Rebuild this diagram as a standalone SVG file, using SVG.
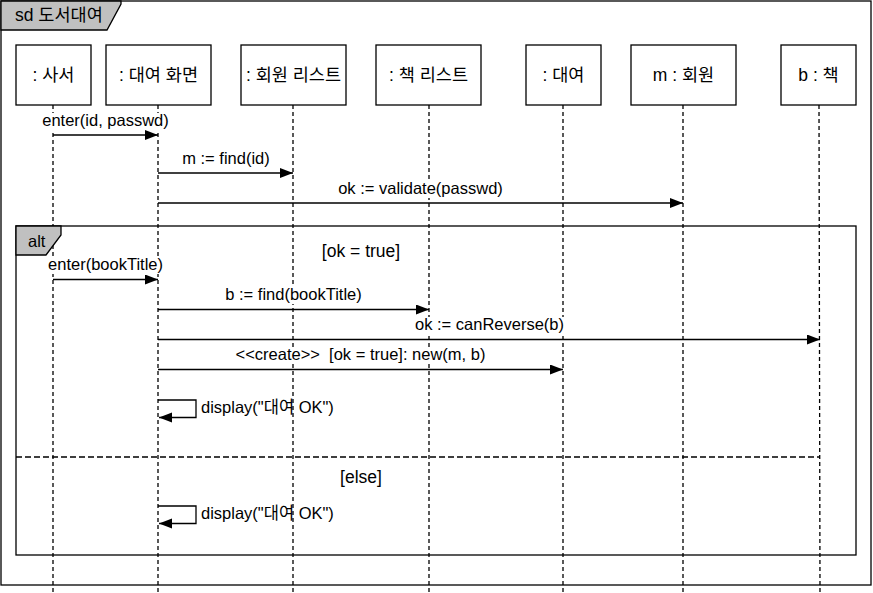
<svg xmlns="http://www.w3.org/2000/svg" width="873" height="593" viewBox="0 0 873 593">
  <style>
    text { font-family: "Liberation Sans", Arial, "Noto Sans CJK KR", sans-serif; fill: #000; }
    .lbl { font-size: 17.5px; text-anchor: middle; }
    .msg { font-size: 16.5px; text-anchor: middle; white-space: pre; }
    .guard { font-size: 17.5px; text-anchor: middle; }
    .box { fill: #fff; stroke: #000; stroke-width: 1.3; }
    .frame { fill: none; stroke: #000; stroke-width: 1.3; }
    .tab { fill: #c0c0c0; stroke: #000; stroke-width: 1.3; }
    .life { stroke: #000; stroke-width: 1.3; stroke-dasharray: 4 3; fill: none; }
    .sep { stroke: #000; stroke-width: 1.3; stroke-dasharray: 6 3; fill: none; }
    .arr { stroke: #000; stroke-width: 1.3; fill: none; marker-end: url(#head); }
    .bg { fill: #fff; stroke: none; }
  </style>
  <defs>
    <marker id="head" markerUnits="userSpaceOnUse" markerWidth="14" markerHeight="12" refX="13" refY="5" orient="auto">
      <polygon points="0,0 13,5 0,10" fill="#000"/>
    </marker>
  </defs>
  <rect width="873" height="593" fill="#fff"/>

  <g id="frame-sd">
    <rect class="frame" x="1" y="1" width="870" height="584"/>
    <polygon class="tab" points="1,1 121,1 121,4 107,30 1,30"/>
    <text x="15" y="21" style="font-size:17.5px">sd 도서대여</text>
  </g>

  <g id="lifelines">
    <line class="life" x1="53" y1="105" x2="53" y2="593"/>
    <line class="life" x1="158" y1="105" x2="158" y2="593"/>
    <line class="life" x1="293" y1="105" x2="293" y2="593"/>
    <line class="life" x1="429" y1="105" x2="429" y2="593"/>
    <line class="life" x1="563" y1="105" x2="563" y2="593"/>
    <line class="life" x1="683" y1="105" x2="683" y2="593"/>
    <line class="life" x1="819" y1="105" x2="820" y2="593"/>
  </g>

  <g id="n-librarian"><rect class="box" x="16" y="45" width="75" height="60"/><text class="lbl" x="53.5" y="81">: 사서</text></g>
  <g id="n-screen"><rect class="box" x="106" y="45" width="105" height="60"/><text class="lbl" x="158.5" y="81">: 대여 화면</text></g>
  <g id="n-memberlist"><rect class="box" x="241" y="45" width="105" height="60"/><text class="lbl" x="293.5" y="81">: 회원 리스트</text></g>
  <g id="n-booklist"><rect class="box" x="376" y="45" width="105" height="60"/><text class="lbl" x="428.5" y="81">: 책 리스트</text></g>
  <g id="n-loan"><rect class="box" x="526" y="45" width="75" height="60"/><text class="lbl" x="563.5" y="81">: 대여</text></g>
  <g id="n-member"><rect class="box" x="631" y="45" width="105" height="60"/><text class="lbl" x="683.5" y="81">m : 회원</text></g>
  <g id="n-book"><rect class="box" x="781" y="45" width="75" height="60"/><text class="lbl" x="818.5" y="81">b : 책</text></g>

  <g id="frame-alt">
    <rect class="frame" x="16" y="226" width="840" height="329"/>
    <polygon class="tab" points="16,226 61,226 61,235 46,255 16,255"/>
    <text x="28" y="247" style="font-size:16.5px">alt</text>
    <text class="guard" x="361" y="257">[ok = true]</text>
    <line class="sep" x1="16" y1="457" x2="820" y2="457"/>
    <text class="guard" x="361" y="483">[else]</text>
  </g>

  <g id="connectors">
    <line class="arr" x1="53" y1="135" x2="158" y2="135"/>
    <rect class="bg" x="41" y="113" width="129" height="17"/>
    <text class="msg" x="105.5" y="126">enter(id, passwd)</text>

    <line class="arr" x1="158" y1="173" x2="293" y2="173"/>
    <rect class="bg" x="181" y="151" width="90" height="17"/>
    <text class="msg" x="226" y="164">m := find(id)</text>

    <line class="arr" x1="158" y1="203" x2="683" y2="203"/>
    <rect class="bg" x="337" y="181" width="167" height="17"/>
    <text class="msg" x="420.5" y="194">ok := validate(passwd)</text>

    <line class="arr" x1="53" y1="279.5" x2="158" y2="279.5"/>
    <rect class="bg" x="47" y="257" width="118" height="17"/>
    <text class="msg" x="105.5" y="270">enter(bookTitle)</text>

    <line class="arr" x1="158" y1="309.5" x2="429" y2="309.5"/>
    <rect class="bg" x="224" y="287" width="139" height="17"/>
    <text class="msg" x="293.5" y="300">b := find(bookTitle)</text>

    <line class="arr" x1="158" y1="339.5" x2="820" y2="339.5"/>
    <rect class="bg" x="414" y="317" width="151" height="17"/>
    <text class="msg" x="489.5" y="330">ok := canReverse(b)</text>

    <line class="arr" x1="158" y1="369.5" x2="563" y2="369.5"/>
    <rect class="bg" x="235" y="347" width="252" height="17"/>
    <text class="msg" x="360.5" y="360">&lt;&lt;create&gt;&gt;  [ok = true]: new(m, b)</text>

    <path class="arr" d="M158,400 H196 V417.5 H159"/>
    <text x="201" y="413" style="font-size:16.5px">display("대여 OK")</text>

    <path class="arr" d="M158,506 H196 V523.5 H159"/>
    <text x="201" y="519" style="font-size:16.5px">display("대여 OK")</text>
  </g>
</svg>
